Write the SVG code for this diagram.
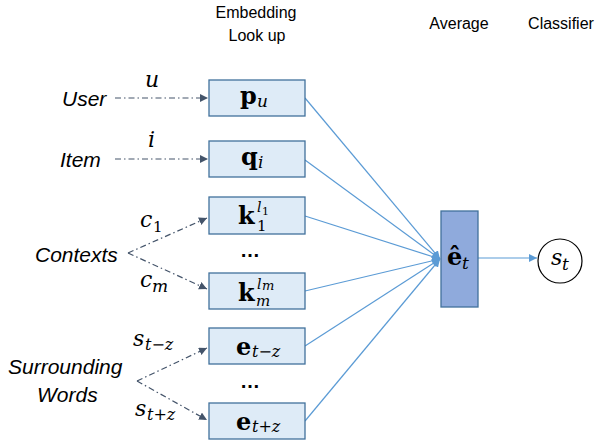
<svg xmlns="http://www.w3.org/2000/svg" width="595" height="445" viewBox="0 0 595 445">
<style>
.hdr{font-family:"Liberation Sans",Arial,sans-serif;font-size:16px;fill:#000;text-anchor:middle}
.lbl{font-family:"Liberation Sans",Arial,sans-serif;font-size:21px;font-style:italic;fill:#000}
.m{font-family:"DejaVu Serif",serif;font-style:italic;font-size:22px;fill:#000}
.ms{font-family:"DejaVu Serif",serif;font-style:italic;font-size:17px;fill:#000}
.n{font-family:"DejaVu Serif",serif;font-size:15px;fill:#000}
.b{font-family:"DejaVu Serif",serif;font-weight:bold;font-size:24px;fill:#000}
.box{fill:#DEEBF7;stroke:#41719C;stroke-width:1.3}
.avg{fill:#8FAADC;stroke:#41719C;stroke-width:1.3}
.blue{stroke:#5B9BD5;stroke-width:1.2;fill:none}
.dd{stroke:#44546A;stroke-width:1.2;fill:none;stroke-dasharray:6 3 1.5 3}
.dots{font-family:"Liberation Sans",Arial,sans-serif;font-weight:bold;font-size:20px;fill:#000;text-anchor:middle}
</style>
<defs>
<marker id="ab" viewBox="0 0 10 10" refX="10" refY="5" markerWidth="8" markerHeight="8" markerUnits="userSpaceOnUse" orient="auto">
<path d="M0,0 L10,5 L0,10 z" fill="#5B9BD5"/>
</marker>
<marker id="ad" viewBox="0 0 10 10" refX="10" refY="5" markerWidth="8" markerHeight="8" markerUnits="userSpaceOnUse" orient="auto">
<path d="M0,0 L10,5 L0,10 z" fill="#44546A"/>
</marker>
</defs>

<g id="headers">
<text class="hdr" x="256" y="18">Embedding</text>
<text class="hdr" x="257" y="41">Look up</text>
<text class="hdr" x="459" y="29">Average</text>
<text class="hdr" x="561" y="29">Classifier</text>
</g>

<g id="connectors">
<line class="dd" x1="115" y1="98" x2="208" y2="98" marker-end="url(#ad)"/>
<line class="dd" x1="115" y1="159" x2="208" y2="159" marker-end="url(#ad)"/>
<line class="dd" x1="128" y1="253" x2="207" y2="218" marker-end="url(#ad)"/>
<line class="dd" x1="128" y1="253" x2="207" y2="289" marker-end="url(#ad)"/>
<line class="dd" x1="137" y1="381" x2="207" y2="348" marker-end="url(#ad)"/>
<line class="dd" x1="137" y1="381" x2="207" y2="420" marker-end="url(#ad)"/>
<line class="blue" x1="305" y1="98" x2="440" y2="259" marker-end="url(#ab)"/>
<line class="blue" x1="305" y1="160" x2="440" y2="259" marker-end="url(#ab)"/>
<line class="blue" x1="305" y1="216" x2="440" y2="259" marker-end="url(#ab)"/>
<line class="blue" x1="305" y1="291" x2="440" y2="259" marker-end="url(#ab)"/>
<line class="blue" x1="305" y1="346" x2="440" y2="259" marker-end="url(#ab)"/>
<line class="blue" x1="305" y1="421" x2="440" y2="259" marker-end="url(#ab)"/>
<line class="blue" x1="478" y1="258" x2="537" y2="258" marker-end="url(#ab)"/>
<text class="m" x="145" y="87">u</text>
<text class="m" x="148" y="147">i</text>
<text class="m" x="140" y="227">c</text><text class="n" x="153" y="232">1</text>
<text class="m" x="140" y="287">c</text><text class="ms" x="152" y="292">m</text>
<text class="m" x="133" y="346">s</text><text class="ms" x="145" y="350" style="font-size:16px">t−z</text>
<text class="m" x="135" y="416">s</text><text class="ms" x="147" y="420" style="font-size:16px">t+z</text>
</g>

<g id="user"><text class="lbl" x="62" y="106">User</text></g>
<g id="item"><text class="lbl" x="60" y="167">Item</text></g>
<g id="contexts"><text class="lbl" x="35" y="262">Contexts</text></g>
<g id="surrounding"><text class="lbl" x="8" y="374">Surrounding</text><text class="lbl" x="37" y="402">Words</text></g>

<g id="pu">
<rect class="box" x="209" y="80" width="96" height="36"/>
<text class="b" x="240" y="104">p</text><text class="ms" x="257" y="107">u</text>
</g>
<g id="qi">
<rect class="box" x="209" y="141" width="96" height="36"/>
<text class="b" x="241" y="165">q</text><text class="ms" x="258" y="168">i</text>
</g>
<g id="k1">
<rect class="box" x="209" y="197" width="96" height="37"/>
<text class="b" x="238" y="224">k</text>
<text class="ms" x="257" y="212" style="font-size:14px">l</text><text class="n" x="262" y="215" style="font-size:11px">1</text>
<text class="n" x="257" y="231">1</text>
</g>
<g id="dots1"><text class="dots" x="250" y="257">…</text></g>
<g id="km">
<rect class="box" x="209" y="273" width="96" height="36"/>
<text class="b" x="238" y="301">k</text>
<text class="ms" x="257" y="289" style="font-size:14px">l</text><text class="ms" x="262" y="290" style="font-size:13px">m</text>
<text class="ms" x="256" y="306" style="font-size:15px">m</text>
</g>
<g id="etmz">
<rect class="box" x="209" y="328" width="96" height="36"/>
<text class="b" x="236" y="355">e</text><text class="ms" x="252" y="357" style="font-size:16px">t−z</text>
</g>
<g id="dots2"><text class="dots" x="250" y="388">…</text></g>
<g id="etpz">
<rect class="box" x="209" y="403" width="96" height="36"/>
<text class="b" x="236" y="430">e</text><text class="ms" x="252" y="432" style="font-size:16px">t+z</text>
</g>
<g id="average">
<rect class="avg" x="441" y="211" width="37" height="96"/>
<text class="b" x="447" y="265">ê</text><text class="ms" x="462" y="269">t</text>
</g>
<g id="classifier">
<circle cx="560" cy="261" r="22" fill="#fff" stroke="#000" stroke-width="1.2"/>
<text class="m" x="551" y="265">s</text><text class="ms" x="562" y="270">t</text>
</g>
</svg>
